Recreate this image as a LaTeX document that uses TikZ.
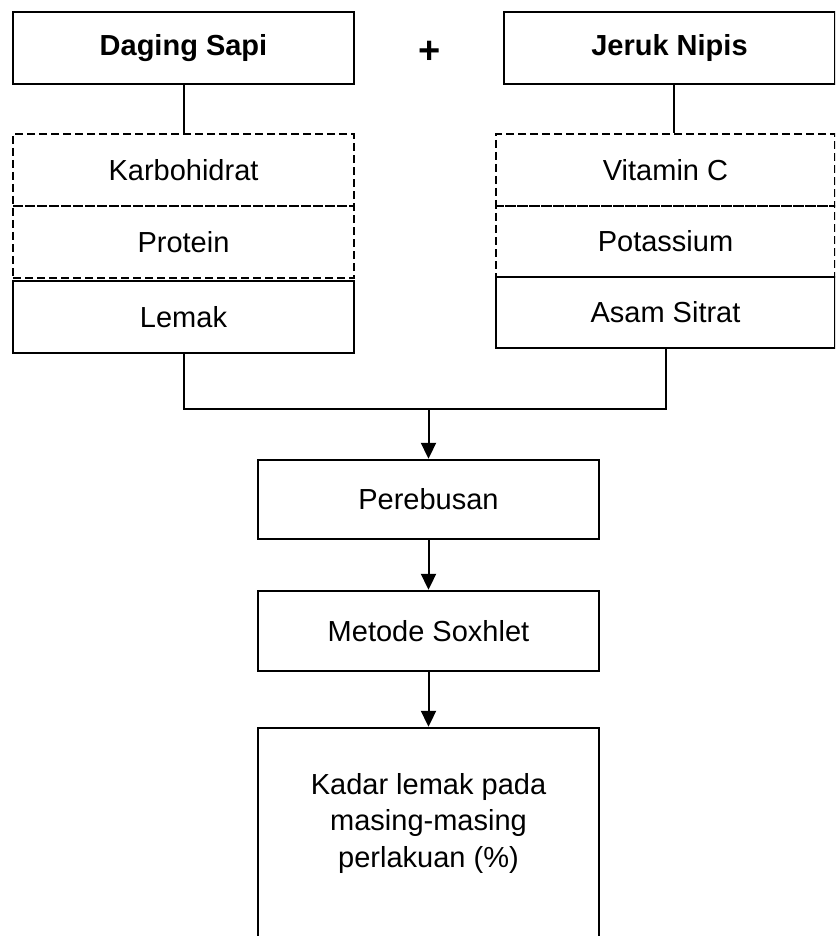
\documentclass[tikz,border=0pt]{standalone}
\usepackage{fontspec}
\setmainfont{Liberation Sans}
\usetikzlibrary{arrows.meta}
\tikzset{
  box/.style={draw, line width=2.4pt, inner sep=0pt, align=center,
    font=\fontsize{29}{36.5}\selectfont},
  dashbox/.style={box, dash pattern=on 8pt off 4pt},
  link/.style={line width=2pt},
  flow/.style={link, -{Triangle[width=15pt,length=16pt]}}
}
\begin{document}
\begin{tikzpicture}[x=1pt,y=-1pt]
\useasboundingbox (0,0) rectangle (835,936);
\clip (0,0) rectangle (835,936);

% ingredients
\node[box, font=\fontsize{29}{36.5}\selectfont\bfseries, minimum width=341pt, minimum height=72pt] (sapi) at (183.5,48) {Daging Sapi};
\node[box, font=\fontsize{29}{36.5}\selectfont\bfseries, minimum width=331pt, minimum height=72pt] (jeruk) at (669.5,48) {Jeruk Nipis};
\node[font=\fontsize{38}{40}\selectfont\bfseries] (plus) at (430,52) {+};

% contents of daging sapi
\node[dashbox, minimum width=341pt, minimum height=72pt] (karbo) at (183.5,170) {Karbohidrat};
\node[dashbox, minimum width=341pt, minimum height=72pt] (protein) at (183.5,242) {Protein};
\node[box, minimum width=341pt, minimum height=72pt] (lemak) at (183.5,317) {Lemak};

% contents of jeruk nipis
\node[dashbox, minimum width=339pt, minimum height=72pt] (vitc) at (665.5,170) {Vitamin C};
\node[dashbox, minimum width=339pt, minimum height=71pt] (kalium) at (665.5,241.5) {Potassium};
\node[box, minimum width=339pt, minimum height=71pt] (sitrat) at (665.5,312.5) {Asam Sitrat};

% process
\node[box, minimum width=341pt, minimum height=79pt] (rebus) at (428.5,499.5) {Perebusan};
\node[box, minimum width=341pt, minimum height=80pt] (soxhlet) at (428.5,631) {Metode Soxhlet};
\node[box, minimum width=341pt, minimum height=214pt] (hasil) at (428.5,835) {};
\node[align=center, font=\fontsize{29}{36.5}\selectfont] (hasiltext) at (428.5,823) {Kadar lemak pada\\masing-masing\\perlakuan (\%)};

% connectors
\coordinate (join) at (428.5,409);
\draw[link] (sapi.south) -- (karbo.north);
\draw[link] (jeruk.south -| 674,0) -- (vitc.north -| 674,0);
\draw[link] (lemak.south) |- (join) -| (sitrat.south);
\draw[flow] (join) -- (rebus.north);
\draw[flow] (rebus.south) -- (soxhlet.north);
\draw[flow] (soxhlet.south) -- (hasil.north);

\end{tikzpicture}
\end{document}
